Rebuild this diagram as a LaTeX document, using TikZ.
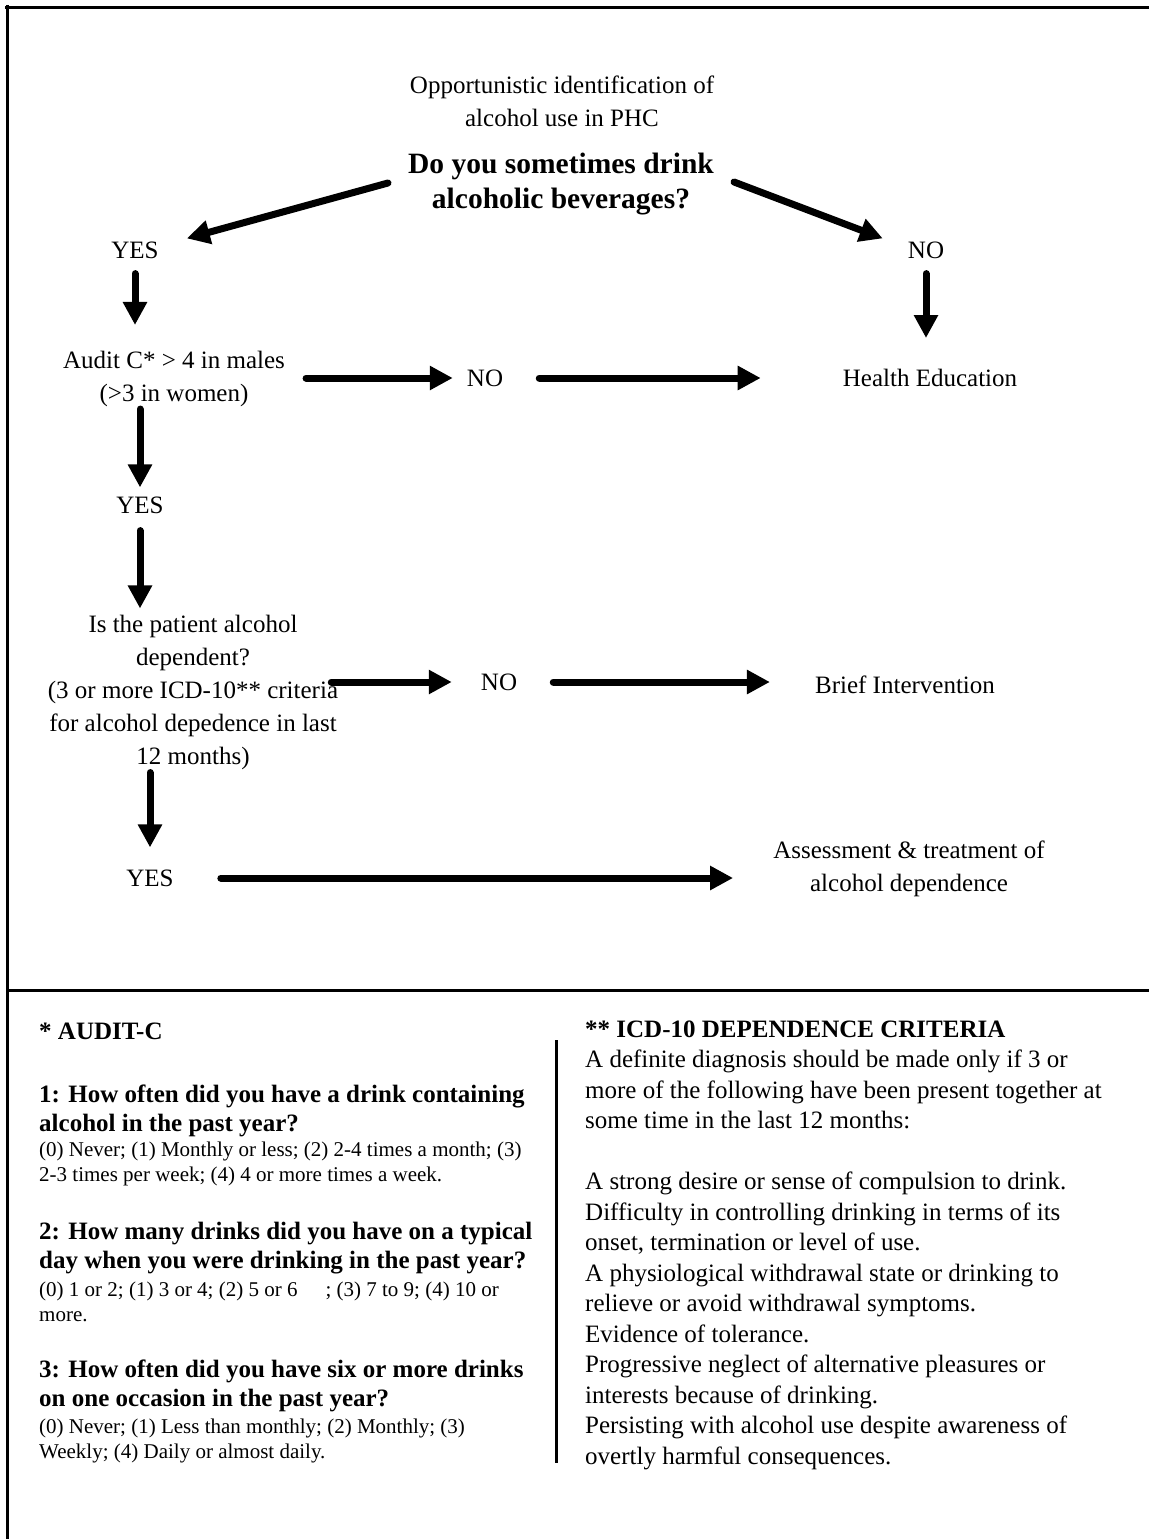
\documentclass[tikz,border=0pt]{standalone}
\usepackage{fontspec}
\setmainfont{Liberation Serif}
\usetikzlibrary{arrows.meta,calc}

\begin{document}
\begin{tikzpicture}[x=1pt, y=-1pt,
    lbl/.style={inner sep=0pt, align=center, font=\fontsize{25}{33}\selectfont},
    ques/.style={inner sep=0pt, align=center, font=\bfseries\fontsize{29.5}{35}\selectfont},
    arr/.style={line width=7pt, line cap=round, -{Triangle[length=23pt, width=23pt]}},
    head/.style={inner sep=0pt, anchor=north west, align=left, font=\bfseries\fontsize{25}{28.5}\selectfont},
    ans/.style={inner sep=0pt, anchor=north west, align=left, font=\fontsize{21}{25}\selectfont},
    crit/.style={inner sep=0pt, anchor=north west, align=left, font=\fontsize{25}{30.5}\selectfont},
    frame/.style={line width=3pt}]
      \useasboundingbox (0,0) rectangle (1149,1539);

      % 枠
      \draw[frame] (5,7) -- (1149,7);
      \draw[frame] (7,5) -- (7,1539);
      \draw[frame] (7,990) -- (1149,990);
      \draw[frame] (556,1040) -- (556,1463);

      % 値を入れる
      \node[lbl] (opp) at (562,101) {Opportunistic identification of\\alcohol use in PHC};
      \node[ques] (q) at (561,184) {Do you sometimes drink\\alcoholic beverages?};
      \node[lbl] (yes1) at (135,250) {YES};
      \node[lbl] (no1) at (926,250) {NO};
      \node[lbl] (audit) at (174,379) {Audit C* > 4 in males\\(>3 in women)};
      \node[lbl] (no2) at (485,378) {NO};
      \node[lbl] (health) at (930,378) {Health Education};
      \node[lbl] (yes2) at (140,505) {YES};
      \node[lbl] (dep) at (193,692) {Is the patient alcohol\\dependent?\\(3 or more ICD-10** criteria\\for alcohol depedence in last\\12 months)};
      \node[lbl] (no3) at (499,682) {NO};
      \node[lbl] (brief) at (905,685) {Brief Intervention};
      \node[lbl] (yes3) at (150,878) {YES};
      \node[lbl] (assess) at (909,869) {Assessment \& treatment of\\alcohol dependence};

      % 線を引く
      \draw[arr] ($(q.west)+(-20,-1)$) -- ($(yes1.north east)+(28,-3)$);
      \draw[arr] ($(q.east)+(20,-2)$) -- ($(no1.north west)+(-25,-3)$);
      \draw[arr, shorten <=15pt, shorten >=26pt] (yes1.south) -- (yes1.south |- audit.north);
      \draw[arr, shorten <=15pt, shorten >=31pt] (no1.south) -- (no1.south |- health.north);
      \draw[arr, shorten <=21pt, shorten >=14pt] (audit.east |- no2.west) -- (no2.west);
      \draw[arr, shorten <=36pt, shorten >=82pt] (no2.east) -- (health.west);
      \draw[arr, shorten <=2pt, shorten >=9pt] (yes2.north |- audit.south) -- (yes2.north);
      \draw[arr, shorten <=17pt, shorten >=6pt] (yes2.south) -- (yes2.south |- dep.north);
      \draw[arr, shorten <=-7pt, shorten >=29pt] (dep.east |- no3.west) -- (no3.west);
      \draw[arr, shorten <=36pt, shorten >=45pt] (no3.east) -- (no3.east -| brief.west);
      \draw[arr, shorten <=3pt, shorten >=22pt] (yes3.north |- dep.south) -- (yes3.north);
      \draw[arr, shorten <=47pt, shorten >=40pt] (yes3.east) -- (yes3.east -| assess.west);

      % 注釈
      \node[head] (audc) at (39,1023) {* AUDIT-C};
      \node[head] (q1h) at (39,1085) {1: How often did you have a drink containing\\alcohol in the past year?};
      \node[ans] (q1a) at (39,1142) {(0) Never; (1) Monthly or less; (2) 2-4 times a month; (3)\\2-3 times per week; (4) 4 or more times a week.};
      \node[head] (q2h) at (39,1222) {2: How many drinks did you have on a typical\\day when you were drinking in the past year?};
      \node[ans] (q2a) at (39,1282) {(0) 1 or 2; (1) 3 or 4; (2) 5 or 6\hspace{28pt}; (3) 7 to 9; (4) 10 or\\more.};
      \node[head] (q3h) at (39,1360) {3: How often did you have six or more drinks\\on one occasion in the past year?};
      \node[ans] (q3a) at (39,1419) {(0) Never; (1) Less than monthly; (2) Monthly; (3)\\Weekly; (4) Daily or almost daily.};

      \node[head] (icdh) at (585,1021) {** ICD-10 DEPENDENCE CRITERIA};
      \node[crit] (icd) at (585,1050) {A definite diagnosis should be made only if 3 or\\more of the following have been present together at\\some time in the last 12 months:\\[30.5pt]A strong desire or sense of compulsion to drink.\\Difficulty in controlling drinking in terms of its\\onset, termination or level of use.\\A physiological withdrawal state or drinking to\\relieve or avoid withdrawal symptoms.\\Evidence of tolerance.\\Progressive neglect of alternative pleasures or\\interests because of drinking.\\Persisting with alcohol use despite awareness of\\overtly harmful consequences.};
    \end{tikzpicture}
\end{document}
